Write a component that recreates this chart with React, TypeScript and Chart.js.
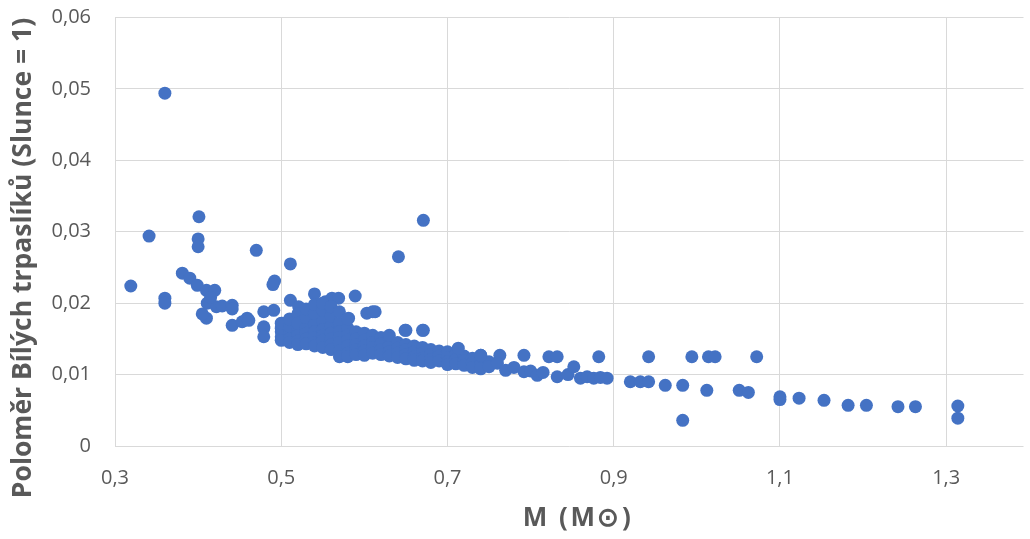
import React, { useEffect, useRef } from 'react';
import { Chart, registerables } from 'chart.js';

Chart.register(...registerables);

// Mass of white dwarfs (solar masses)
const masses: number[] = [
  // sparse left group
  0.36, 0.319, 0.341, 0.36, 0.36, 0.401, 0.40, 0.40, 0.47, 0.511,
  0.381, 0.39, 0.399, 0.41, 0.42, 0.411, 0.422, 0.429, 0.441, 0.441,
  0.41, 0.492, 0.49, 0.479, 0.491, 0.511, 0.521, 0.54, 0.553, 0.561,
  0.569, 0.441, 0.453, 0.459, 0.479, 0.501, 0.461, 0.479, 0.479, 0.589,
  0.603, 0.613, 0.581, 0.649, 0.671, 0.641, 0.671, 0.415, 0.405,
  // dense band
  0.50, 0.50, 0.50, 0.50, 0.50,
  0.51, 0.51, 0.51, 0.51, 0.51,
  0.52, 0.52, 0.52, 0.52, 0.52, 0.52,
  0.53, 0.53, 0.53, 0.53, 0.53, 0.53,
  0.54, 0.54, 0.54, 0.54, 0.54, 0.54, 0.54,
  0.55, 0.55, 0.55, 0.55, 0.55, 0.55, 0.55,
  0.56, 0.56, 0.56, 0.56, 0.56, 0.56, 0.56,
  0.57, 0.57, 0.57, 0.57, 0.57, 0.57, 0.57,
  0.58, 0.58, 0.58, 0.58, 0.58, 0.58, 0.58,
  0.59, 0.59, 0.59, 0.59, 0.59,
  0.60, 0.60, 0.60, 0.60, 0.60,
  0.61, 0.61, 0.61, 0.61, 0.61,
  0.62, 0.62, 0.62, 0.62,
  0.63, 0.63, 0.63, 0.63, 0.63,
  0.64, 0.64, 0.64, 0.64,
  0.65, 0.65, 0.65, 0.65, 0.65,
  0.66, 0.66, 0.66, 0.66,
  0.67, 0.67, 0.67, 0.67, 0.67,
  0.68, 0.68, 0.68, 0.68,
  0.69, 0.69, 0.69,
  0.70, 0.70, 0.70, 0.70,
  0.71, 0.71, 0.71,
  0.72, 0.72, 0.72,
  0.73, 0.73, 0.73,
  0.74, 0.74, 0.74, 0.74,
  0.75, 0.75,
  // tail
  0.713, 0.74, 0.763, 0.792, 0.822, 0.832, 0.882, 0.942, 0.994, 1.014,
  1.022, 1.072, 0.76, 0.77, 0.78, 0.792, 0.80, 0.808, 0.815, 0.832,
  0.845, 0.852, 0.86, 0.868, 0.876, 0.884, 0.892, 0.92, 0.932, 0.942,
  0.962, 0.983, 1.012, 1.051, 1.062, 0.983, 1.10, 1.10, 1.123, 1.153,
  1.182, 1.204, 1.242, 1.263, 1.314, 1.314,
];

// Radius of white dwarfs (Sun = 1)
const radii: number[] = [
  // sparse left group
  0.0494, 0.0224, 0.0294, 0.0207, 0.0200, 0.0321, 0.0290, 0.0279, 0.0274, 0.0255,
  0.0242, 0.0235, 0.0225, 0.0218, 0.0218, 0.0200, 0.0195, 0.0196, 0.0197, 0.0192,
  0.0179, 0.0231, 0.0226, 0.0188, 0.0190, 0.0204, 0.0195, 0.0213, 0.0202, 0.0207,
  0.0207, 0.0169, 0.0174, 0.0179, 0.0167, 0.0172, 0.0176, 0.0165, 0.0153, 0.0210,
  0.0186, 0.0188, 0.0179, 0.0162, 0.0162, 0.0265, 0.0316, 0.0208, 0.0185,
  // dense band
  0.0160, 0.0153, 0.0148, 0.0165, 0.0172,
  0.0158, 0.0150, 0.0145, 0.0168, 0.0178,
  0.0162, 0.0155, 0.0147, 0.0142, 0.0185, 0.0172,
  0.0165, 0.0158, 0.0150, 0.0143, 0.0180, 0.0192,
  0.0170, 0.0160, 0.0152, 0.0145, 0.0140, 0.0186, 0.0198,
  0.0175, 0.0163, 0.0155, 0.0148, 0.0138, 0.0190, 0.0200,
  0.0168, 0.0158, 0.0150, 0.0142, 0.0135, 0.0182, 0.0195,
  0.0172, 0.0160, 0.0152, 0.0145, 0.0133, 0.0125, 0.0188,
  0.0165, 0.0155, 0.0148, 0.0140, 0.0130, 0.0125, 0.0178,
  0.0160, 0.0150, 0.0142, 0.0135, 0.0128,
  0.0158, 0.0148, 0.0140, 0.0133, 0.0127,
  0.0155, 0.0145, 0.0138, 0.0130, 0.0188,
  0.0152, 0.0143, 0.0135, 0.0128,
  0.0150, 0.0140, 0.0132, 0.0126, 0.0155,
  0.0145, 0.0137, 0.0130, 0.0124,
  0.0142, 0.0135, 0.0128, 0.0122, 0.0162,
  0.0140, 0.0132, 0.0125, 0.0120,
  0.0138, 0.0130, 0.0123, 0.0119, 0.0162,
  0.0135, 0.0128, 0.0121, 0.0117,
  0.0133, 0.0126, 0.0119,
  0.0132, 0.0124, 0.0118, 0.0114,
  0.0128, 0.0121, 0.0115,
  0.0126, 0.0119, 0.0113,
  0.0123, 0.0116, 0.0110,
  0.0127, 0.0120, 0.0113, 0.0108,
  0.0118, 0.0111,
  // tail
  0.0137, 0.0127, 0.0127, 0.0127, 0.0125, 0.0125, 0.0125, 0.0125, 0.0125, 0.0125,
  0.0125, 0.0125, 0.0116, 0.0106, 0.0110, 0.0104, 0.0105, 0.0099, 0.0103, 0.0097,
  0.0100, 0.0111, 0.0095, 0.0097, 0.0095, 0.0096, 0.0095, 0.0090, 0.0090, 0.0090,
  0.0085, 0.0085, 0.0078, 0.0078, 0.0075, 0.0036, 0.0069, 0.0065, 0.0067, 0.0064,
  0.0057, 0.0057, 0.0055, 0.0055, 0.0056, 0.0039,
];

const xTickValues: number[] = [0.3, 0.5, 0.7, 0.9, 1.1, 1.3];
const yTickValues: number[] = [0, 0.01, 0.02, 0.03, 0.04, 0.05, 0.06];
const xTitle = 'M (M\u2299)';
const yTitle = 'Poloměr Bílých trpaslíků (Slunce = 1)';

const W = 1030;
const H = 539;
const TEXT = '#595959';
const GRID = '#d9d9d9';
const FONT = '"Open Sans", "Noto Sans", sans-serif';

const titlesPlugin = {
  id: 'axisTitles',
  afterDraw(chart: any) {
    const ctx = chart.ctx as CanvasRenderingContext2D;
    ctx.save();
    ctx.fillStyle = TEXT;
    ctx.textAlign = 'center';
    ctx.textBaseline = 'middle';
    ctx.font = `bold 26.5px ${FONT}`;
    ctx.save();
    ctx.translate(23, 258);
    ctx.rotate(-Math.PI / 2);
    ctx.fillText(yTitle, 0, 0);
    ctx.restore();
    ctx.font = `bold 26px ${FONT}`;
    (ctx as any).letterSpacing = '2.5px';
    ctx.fillText(xTitle, 578, 519);
    ctx.restore();
  },
};

export default function App() {
  const ref = useRef<HTMLCanvasElement | null>(null);

  useEffect(() => {
    if (!ref.current) return;
    const points = masses.map((m, i) => ({ x: m, y: radii[i] }));
    const chart = new Chart(ref.current, {
      type: 'scatter',
      data: {
        datasets: [
          {
            data: points,
            backgroundColor: '#4472C4',
            borderColor: '#4472C4',
            borderWidth: 0,
            pointRadius: 6.5,
            pointHoverRadius: 6.5,
          },
        ],
      },
      options: {
        animation: false,
        responsive: false,
        devicePixelRatio: 1,
        layout: { padding: { top: 17.5, right: 0, bottom: 0, left: 0 } },
        plugins: {
          legend: { display: false },
          tooltip: { enabled: false },
          title: { display: false },
        },
        scales: {
          x: {
            type: 'linear',
            min: 0.3,
            max: 1.393,
            afterFit: (s: any) => {
              s.height = 93;
              s.paddingLeft = 0;
              s.paddingRight = 0;
            },
            afterBuildTicks: (s: any) => {
              s.ticks = xTickValues.map((v) => ({ value: v }));
            },
            grid: { color: GRID, lineWidth: 1, drawTicks: false },
            border: { display: false },
            ticks: {
              padding: 20,
              color: TEXT,
              font: { family: FONT, size: 20 },
              callback: (v: any) => Number(v).toFixed(1).replace('.', ','),
            },
          },
          y: {
            type: 'linear',
            min: 0,
            max: 0.06,
            afterFit: (s: any) => {
              s.width = 115;
              s.paddingTop = 0;
              s.paddingBottom = 0;
            },
            afterBuildTicks: (s: any) => {
              s.ticks = yTickValues.map((v) => ({ value: v }));
            },
            grid: { color: GRID, lineWidth: 1, drawTicks: false },
            border: { display: false },
            ticks: {
              padding: 24,
              color: TEXT,
              font: { family: FONT, size: 20 },
              callback: (v: any) => (Number(v) === 0 ? '0' : Number(v).toFixed(2).replace('.', ',')),
            },
          },
        },
      },
      plugins: [titlesPlugin],
    });
    return () => chart.destroy();
  }, []);

  return (
    <div style={{ position: 'fixed', left: 0, top: 0, width: W, height: H, background: '#fff' }}>
      <canvas ref={ref} width={W} height={H} style={{ width: W, height: H, display: 'block' }} />
    </div>
  );
}
